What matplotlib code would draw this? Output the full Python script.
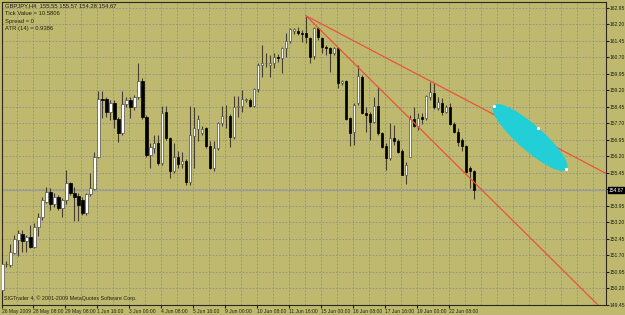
import numpy as np
import matplotlib
matplotlib.use("Agg")
import matplotlib.pyplot as plt

plt.rcParams["font.family"] = ["Liberation Sans", "DejaVu Sans"]

# GBPJPY H4 bars (oldest first)
opens = [150.13, 151.30, 151.25, 151.81, 152.40, 152.68, 152.37, 152.52, 152.10, 153.01,
         153.43, 154.13, 154.59, 154.04, 154.37, 153.84, 154.22, 154.98, 154.54, 154.40,
         154.22, 153.63, 154.50, 154.72, 156.18, 158.81, 158.81, 158.24, 158.65, 157.89,
         157.28, 158.59, 158.77, 158.44, 158.89, 159.65, 157.98, 156.27, 156.57, 156.83,
         155.89, 158.24, 157.03, 155.55, 156.19, 155.86, 156.01, 155.05, 157.13, 157.44,
         157.25, 157.48, 156.68, 155.66, 156.57, 157.71, 158.02, 158.04, 157.07, 158.47,
         158.50, 158.77, 158.77, 158.50, 159.25, 160.36, 160.43, 160.36, 160.46, 160.72,
         160.66, 161.13, 161.45, 161.92, 161.90, 161.81, 161.81, 161.59, 160.77, 162.04,
         161.59, 161.19, 161.12, 160.89, 161.12, 159.53, 159.63, 157.94, 157.33, 158.62,
         159.83, 158.19, 158.13, 157.78, 158.50, 157.25, 156.68, 156.12, 157.03, 156.92,
         156.46, 155.38, 156.19, 157.89, 157.59, 158.00, 157.94, 158.90, 159.10, 158.39,
         158.65, 158.24, 158.46, 157.68, 157.33, 156.95, 156.68, 155.66, 155.55]
highs = [151.40, 151.45, 152.22, 152.63, 152.84, 152.86, 152.63, 153.09, 153.18, 153.63,
         154.36, 154.81, 154.77, 154.54, 154.45, 154.31, 155.59, 155.04, 154.81, 154.54,
         154.36, 154.54, 155.45, 156.40, 159.18, 159.18, 158.90, 158.77, 158.77, 158.01,
         159.19, 158.90, 158.92, 159.00, 160.46, 159.77, 158.09, 156.83, 157.18, 157.18,
         158.50, 158.50, 157.10, 156.83, 156.46, 156.42, 156.07, 158.50, 158.44, 158.09,
         157.59, 157.55, 156.92, 156.92, 157.78, 158.50, 158.54, 158.13, 158.95, 158.95,
         159.22, 158.86, 158.86, 159.31, 160.45, 161.27, 160.90, 160.81, 160.90, 160.86,
         161.19, 161.81, 162.04, 162.04, 162.09, 161.95, 162.59, 161.65, 162.10, 162.10,
         161.65, 161.27, 161.19, 161.18, 161.18, 159.68, 159.68, 158.01, 158.62, 160.36,
         159.90, 158.46, 158.24, 158.92, 159.37, 157.33, 156.80, 157.71, 157.63, 157.00,
         156.53, 155.95, 158.09, 158.44, 158.18, 158.18, 159.00, 159.60, 159.54, 158.89,
         158.85, 158.54, 158.62, 157.78, 157.48, 157.03, 156.72, 155.77, 155.57]
lows = [149.86, 151.18, 151.18, 151.77, 151.68, 151.86, 151.86, 152.04, 152.04, 152.59,
        153.31, 154.09, 153.77, 153.91, 153.77, 153.45, 154.04, 154.45, 153.27, 153.27,
        153.54, 153.54, 154.40, 154.68, 156.13, 157.95, 158.00, 157.86, 157.50, 156.87,
        157.18, 158.45, 157.94, 158.31, 158.80, 157.89, 156.16, 155.66, 156.35, 155.81,
        155.81, 156.95, 155.21, 155.46, 155.66, 155.66, 154.90, 154.90, 155.66, 156.92,
        157.18, 156.57, 155.64, 155.55, 156.50, 157.59, 157.50, 156.62, 156.98, 158.01,
        158.22, 158.68, 158.45, 158.45, 159.13, 159.83, 160.27, 159.83, 160.22, 160.50,
        159.99, 160.74, 161.36, 161.77, 161.72, 161.40, 161.35, 160.46, 160.62, 161.50,
        160.90, 160.81, 160.05, 160.81, 159.31, 159.45, 157.86, 156.68, 156.72, 158.54,
        158.13, 157.33, 156.95, 157.71, 157.18, 156.59, 155.59, 156.04, 156.72, 156.38,
        155.36, 154.93, 156.16, 157.55, 157.40, 157.68, 157.88, 158.77, 158.35, 158.31,
        158.09, 158.18, 157.63, 157.28, 156.68, 156.46, 155.44, 154.75, 154.28]
closes = [151.31, 151.33, 151.84, 152.43, 152.71, 152.38, 152.52, 152.10, 153.01, 153.43,
          154.20, 154.59, 154.04, 154.38, 153.84, 154.20, 154.98, 154.54, 154.38, 154.00,
          153.63, 154.50, 154.77, 156.18, 158.79, 158.75, 158.22, 158.65, 157.89, 157.28,
          158.59, 158.77, 158.44, 158.89, 159.65, 157.98, 156.27, 156.62, 156.83, 155.89,
          158.19, 157.03, 155.55, 156.19, 155.86, 156.01, 155.05, 157.18, 157.48, 157.89,
          157.44, 156.68, 155.66, 156.57, 157.71, 158.05, 158.05, 157.07, 158.46, 158.50,
          158.80, 158.79, 158.50, 159.25, 160.36, 160.44, 160.45, 160.46, 160.74, 160.66,
          161.15, 161.45, 161.98, 161.98, 161.81, 161.77, 161.62, 160.74, 162.04, 161.63,
          161.18, 161.12, 160.92, 161.12, 159.55, 159.63, 157.89, 157.28, 158.54, 159.86,
          158.19, 158.09, 157.78, 158.50, 157.25, 156.65, 156.12, 157.03, 156.92, 156.42,
          155.38, 155.81, 157.89, 157.59, 157.94, 157.89, 158.93, 159.11, 158.44, 158.69,
          158.24, 158.46, 157.68, 157.33, 156.87, 156.68, 155.51, 155.53, 154.67]

date_labels = ["26 May 2009", "28 May 08:00", "29 May 08:00", "1 Jun 16:00", "3 Jun 00:00",
               "4 Jun 08:00", "5 Jun 16:00", "9 Jun 00:00", "10 Jun 08:00", "11 Jun 16:00",
               "15 Jun 00:00", "16 Jun 08:00", "17 Jun 16:00", "19 Jun 00:00", "22 Jun 08:00"]
price_ticks = [149.45 + 0.75 * k for k in range(19)]
last_price = 154.67

# trendlines (bar index, price) and the ellipse's two end points
line1_x, line1_y = [76, 151], [162.59, 155.43]
line2_x, line2_y = [76, 149], [162.59, 149.45]
ell_x, ell_y = [123.0, 141.0], [158.50, 155.63]
ell_ratio = 0.25

bg = "#BFB96F"
ink = "#202010"
fs = 3.6
fig = plt.figure(figsize=(6.25, 3.15), dpi=100, facecolor=bg)
ax = fig.add_axes([2 / 625, 1 - 305 / 315, 604 / 625, 303 / 315], facecolor=bg)
ax.set_xlim(-0.1, 151)
ax.set_ylim(149.45, 163.22)

# grid
for k in range(1, 38):
    ax.axvline(4 * k - 0.25, color="#8e8e86", lw=0.6, ls=(0, (2, 2)), zorder=0)
for p in price_ticks:
    ax.axhline(p, color="#8e8e86", lw=0.6, ls=(0, (2, 2)), zorder=0)
ax.axhline(last_price, color="#9c9c96", lw=0.9, zorder=1)

# candles
x = np.arange(len(opens))
o = np.array(opens); h = np.array(highs); l = np.array(lows); c = np.array(closes)
up = c >= o
ax.vlines(x, l, h, color="#404030", lw=0.8, zorder=2)
bottoms = np.minimum(o, c)
heights = np.maximum(np.abs(c - o), 0.03)
ax.bar(x[up], heights[up], bottom=bottoms[up], width=0.6, color="white",
       edgecolor="#505050", linewidth=0.5, zorder=3)
ax.bar(x[~up], heights[~up], bottom=bottoms[~up], width=0.6, color="black",
       edgecolor="black", linewidth=0.5, zorder=3)

# trendlines
ax.plot(line1_x, line1_y, color="#E8553A", lw=0.9, zorder=4)
ax.plot(line2_x, line2_y, color="#E8553A", lw=0.9, zorder=4)

# ellipse, built in screen space so it keeps its shape
p1 = ax.transData.transform((ell_x[0], ell_y[0]))
p2 = ax.transData.transform((ell_x[1], ell_y[1]))
cen = (p1 + p2) / 2
d = p2 - p1
a = np.hypot(*d) / 2
u = d / (2 * a)
v = np.array([-u[1], u[0]])
b = a * ell_ratio
t = np.linspace(0, 2 * np.pi, 120)
pts = cen + np.outer(a * np.cos(t), u) + np.outer(b * np.sin(t), v)
dp = ax.transData.inverted().transform(pts)
ax.fill(dp[:, 0], dp[:, 1], color="#22CFD6", zorder=5)
dots = np.array([p1, p2, cen + b * v])
dd = ax.transData.inverted().transform(dots)
ax.scatter(dd[:, 0], dd[:, 1], s=5, color="white", zorder=6, linewidths=0)

# axes styling
for s in ax.spines.values():
    s.set_color("#2a2a1a")
    s.set_linewidth(0.8)
ax.yaxis.tick_right()
ax.set_yticks(price_ticks)
ax.set_yticklabels([f"{p:.2f}" for p in price_ticks])
ax.tick_params(axis="y", length=2, pad=0.5, labelsize=fs, colors=ink)
ax.set_xticks([8 * k - 0.25 if k else 0 for k in range(len(date_labels))])
ax.set_xticklabels(date_labels, ha="left")
ax.tick_params(axis="x", length=2, pad=0.8, labelsize=fs, colors=ink)

ax.text(1.004, last_price, f"{last_price:.2f}", transform=ax.get_yaxis_transform(),
        fontsize=fs, color="white", va="center", ha="left",
        bbox=dict(boxstyle="square,pad=0.15", fc="black", ec="black"))

# info text
hdr = [f"GBPJPY,H4  {opens[-1]:.2f} {highs[-1]:.2f} {lows[-1]:.2f} {closes[-1]:.2f}",
       "Tick Value = 10.5806", "Spread = 0", "ATR (14) = 0.9386"]
for i, s in enumerate(hdr):
    fig.text(5 / 625, 1 - (6 + 7.5 * i) / 315, s, fontsize=4.2, color=ink, va="center")
fig.text(4 / 625, 1 - 298 / 315, "SIGTrader 4, \u00a9 2001-2009 MetaQuotes Software Corp.",
         fontsize=3.9, color=ink, va="center")

fig.savefig("out.png", dpi=100, facecolor=bg)
